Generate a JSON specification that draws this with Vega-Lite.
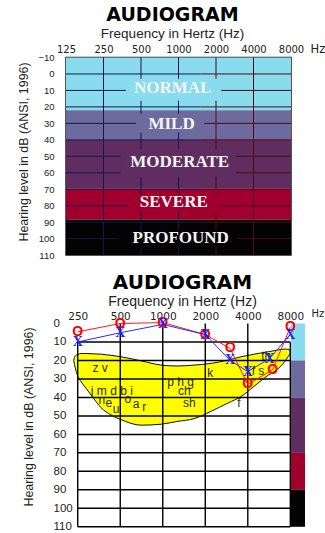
{
  "$schema": "https://vega.github.io/schema/vega-lite/v6.json",
  "background": "white",
  "padding": {"left": 16, "top": 4.5, "right": 0, "bottom": 0},
  "spacing": 12,
  "config": {
    "view": {"stroke": null},
    "font": "Liberation Sans",
    "title": {"font": "DejaVu Sans", "fontWeight": "bold", "color": "#000000", "subtitleFont": "Liberation Sans", "subtitleColor": "#222222", "anchor": "middle"},
    "axis": {"domain": false, "ticks": false, "grid": false, "labelColor": "#222222", "titleFont": "Liberation Sans", "titleFontWeight": "normal", "titleColor": "#222222", "labelOverlap": false}
  },
  "datasets": {
    "bands": [
      {"band": "NORMAL", "db": -10, "db2": 22},
      {"band": "MILD", "db": 22, "db2": 40},
      {"band": "MODERATE", "db": 40, "db2": 69.5},
      {"band": "SEVERE", "db": 69.5, "db2": 88.5},
      {"band": "PROFOUND", "db": 88.5, "db2": 110}
    ],
    "topLabels": [
      {"band": "NORMAL", "f": 899, "db": 8.5, "f1": 379, "f2": 2194, "db1": 2.9, "db2": 16.2},
      {"band": "MILD", "f": 879, "db": 30.4, "f1": 456, "f2": 1611, "db1": 24.1, "db2": 35.5},
      {"band": "MODERATE", "f": 1023, "db": 53.7, "f1": 341, "f2": 2895, "db1": 45.5, "db2": 62.4},
      {"band": "SEVERE", "f": 917, "db": 78, "f1": 391, "f2": 2064, "db1": 73.3, "db2": 83},
      {"band": "PROFOUND", "f": 1041, "db": 99.6, "f1": 330, "f2": 2900, "db1": 95, "db2": 105}
    ],
    "hl1": [{"db": 0}, {"db": 10}, {"db": 20}, {"db": 30}, {"db": 40}, {"db": 50}, {"db": 60}, {"db": 70}, {"db": 80}, {"db": 90}, {"db": 100}],
    "vlNavy": [{"f": 250}, {"f": 500}, {"f": 1000}],
    "vlMaroon": [{"f": 2000}, {"f": 4000}],
    "hl2": [{"db": 10}, {"db": 20}, {"db": 30}, {"db": 40}, {"db": 50}, {"db": 60}, {"db": 70}, {"db": 80}, {"db": 90}, {"db": 100}, {"db": 110}],
    "vl2": [
      {"f": 250, "db": 10, "db2": 110},
      {"f": 500, "db": 0, "db2": 110},
      {"f": 1000, "db": 0, "db2": 110},
      {"f": 2000, "db": 0, "db2": 110},
      {"f": 4000, "db": 0, "db2": 110},
      {"f": 8000, "db": 10, "db2": 110}
    ],
    "strip": [
      {"band": "NORMAL", "db": 0, "db2": 20},
      {"band": "MILD", "db": 20, "db2": 40},
      {"band": "MODERATE", "db": 40, "db2": 70},
      {"band": "SEVERE", "db": 70, "db2": 90},
      {"band": "PROFOUND", "db": 90, "db2": 110}
    ],
    "banana": [
      {"f": 234, "db": 20, "db2": 20},
      {"f": 240, "db": 17.5, "db2": 24},
      {"f": 250, "db": 16.8, "db2": 28.5},
      {"f": 264, "db": 16.2, "db2": 31.5},
      {"f": 286, "db": 16.2, "db2": 35},
      {"f": 320, "db": 16.4, "db2": 40},
      {"f": 365, "db": 16.6, "db2": 45.5},
      {"f": 430, "db": 17.2, "db2": 49.5},
      {"f": 506, "db": 18, "db2": 52},
      {"f": 702, "db": 20.2, "db2": 55},
      {"f": 973, "db": 22.5, "db2": 54.5},
      {"f": 1262, "db": 23, "db2": 53},
      {"f": 1665, "db": 22.5, "db2": 51.5},
      {"f": 2198, "db": 21.6, "db2": 47.5},
      {"f": 2900, "db": 19.8, "db2": 43},
      {"f": 3585, "db": 18, "db2": 39.5},
      {"f": 4432, "db": 16.6, "db2": 34},
      {"f": 5571, "db": 15.3, "db2": 28},
      {"f": 6557, "db": 14.3, "db2": 24.5},
      {"f": 7400, "db": 13.8, "db2": 20},
      {"f": 8000, "db": 14.5, "db2": 16}
    ],
    "phon": [
      {"t": "z v", "f": 360, "db": 24.3},
      {"t": "k", "f": 2172, "db": 26.7},
      {"t": "f s", "f": 4725, "db": 25.5},
      {"t": "th", "f": 5400, "db": 17.5},
      {"t": "p h g", "f": 1336, "db": 31.5},
      {"t": "ch", "f": 1421, "db": 36.4},
      {"t": "sh", "f": 1542, "db": 42.9},
      {"t": "j m d b i", "f": 436, "db": 36.6},
      {"t": "n", "f": 370, "db": 41.4},
      {"t": "e", "f": 415, "db": 42.9},
      {"t": "u", "f": 467, "db": 46},
      {"t": "o", "f": 565, "db": 41.1},
      {"t": "a", "f": 647, "db": 43.3},
      {"t": "r", "f": 740, "db": 45.1},
      {"t": "f", "f": 3466, "db": 42.9}
    ],
    "right": [
      {"f": 250, "db": 4.5},
      {"f": 500, "db": 0},
      {"f": 1000, "db": -0.5},
      {"f": 2000, "db": 6},
      {"f": 3000, "db": 13.5},
      {"f": 4000, "db": 33},
      {"f": 6000, "db": 25},
      {"f": 8000, "db": 2}
    ],
    "left": [
      {"f": 250, "db": 10},
      {"f": 500, "db": 5},
      {"f": 1000, "db": 0.5},
      {"f": 2000, "db": 6},
      {"f": 3000, "db": 20},
      {"f": 4000, "db": 26},
      {"f": 5700, "db": 19},
      {"f": 8000, "db": 6}
    ]
  },
  "vconcat": [
    {
      "width": 225,
      "height": 197.6,
      "view": {"stroke": "#1c1c1c", "strokeWidth": 1.5},
      "title": {"text": "AUDIOGRAM", "subtitle": "Frequency in Hertz (Hz)", "fontSize": 19, "subtitleFontSize": 13.5, "dx": -6, "offset": 3, "subtitlePadding": 2},
      "layer": [
        {
          "data": {"name": "bands"},
          "mark": {"type": "rect"},
          "encoding": {
            "x": {"datum": 125, "type": "quantitative"}, "x2": {"datum": 8000},
            "y": {"field": "db", "type": "quantitative", "scale": {"domain": [-10, 110], "reverse": true, "nice": false, "zero": false},
              "axis": {"values": [-10, 0, 10, 20, 30, 40, 50, 60, 70, 80, 90, 100, 110], "tickCount": 30, "labelOverlap": false, "labelFontSize": 9.5, "labelPadding": 12,
                "title": "Hearing level in dB (ANSI, 1996)", "titleFontSize": 12.4, "titleX": -43, "titleY": 94, "titleBaseline": "middle"}},
            "y2": {"field": "db2"},
            "fill": {"field": "band", "type": "nominal", "legend": null,
              "scale": {"domain": ["NORMAL", "MILD", "MODERATE", "SEVERE", "PROFOUND"], "range": ["#89dbee", "#6d6b9d", "#5f2d5f", "#a1002f", "#030303"]}}
          }
        },
        {
          "data": {"name": "hl1"},
          "mark": {"type": "rule", "color": "#17174c", "strokeWidth": 1},
          "encoding": {"y": {"field": "db", "type": "quantitative"}, "x": {"datum": 125, "type": "quantitative"}, "x2": {"datum": 1500}}
        },
        {
          "data": {"name": "hl1"},
          "mark": {"type": "rule", "color": "#4c0c16", "strokeWidth": 1},
          "encoding": {"y": {"field": "db", "type": "quantitative"}, "x": {"datum": 1500, "type": "quantitative"}, "x2": {"datum": 8000}}
        },
        {
          "data": {"name": "vlNavy"},
          "mark": {"type": "rule", "color": "#17174c", "strokeWidth": 1},
          "encoding": {
            "x": {"field": "f", "type": "quantitative", "scale": {"type": "log", "domain": [125, 8000], "nice": false},
              "axis": {"orient": "top", "values": [125, 250, 500, 1000, 2000, 4000, 8000], "tickCount": 30, "format": "d", "labelOverlap": false, "labelFont": "DejaVu Sans", "labelFontSize": 10, "labelPadding": 3, "labelFlush": false,
                "title": "Hz", "titleFont": "DejaVu Sans", "titleAngle": 0, "titleAlign": "left", "titleBaseline": "middle", "titleX": 244, "titleY": -8, "titleFontSize": 11.5}},
            "y": {"datum": -10, "type": "quantitative"}, "y2": {"datum": 110}
          }
        },
        {
          "data": {"name": "vlMaroon"},
          "mark": {"type": "rule", "color": "#4c0c16", "strokeWidth": 1},
          "encoding": {"x": {"field": "f", "type": "quantitative"}, "y": {"datum": -10, "type": "quantitative"}, "y2": {"datum": 110}}
        },
        {
          "data": {"name": "topLabels"},
          "mark": {"type": "rect"},
          "encoding": {
            "x": {"field": "f1", "type": "quantitative"}, "x2": {"field": "f2"},
            "y": {"field": "db1", "type": "quantitative"}, "y2": {"field": "db2"},
            "fill": {"field": "band", "type": "nominal", "legend": null}
          }
        },
        {
          "data": {"name": "topLabels"},
          "mark": {"type": "text", "font": "Liberation Serif", "fontWeight": "bold", "fontSize": 17, "color": "#f4f4f4", "baseline": "middle", "align": "center"},
          "encoding": {"x": {"field": "f", "type": "quantitative"}, "y": {"field": "db", "type": "quantitative"}, "text": {"field": "band"}}
        }
      ]
    },
    {
      "width": 225,
      "height": 203.3,
      "title": {"text": "AUDIOGRAM", "subtitle": "Frequency in Hertz (Hz)", "fontSize": 20, "subtitleFontSize": 14, "dx": 4, "offset": 0, "subtitlePadding": 2},
      "layer": [
        {
          "data": {"name": "strip"},
          "mark": {"type": "rect"},
          "encoding": {
            "x": {"datum": 8090, "type": "quantitative"}, "x2": {"datum": 10160},
            "y": {"field": "db", "type": "quantitative", "scale": {"domain": [0, 110], "reverse": true, "nice": false, "zero": false},
              "axis": {"values": [0, 10, 20, 30, 40, 50, 60, 70, 80, 90, 100, 110], "tickCount": 30, "labelOverlap": false, "labelFontSize": 11.5, "labelAlign": "left", "labelPadding": 13,
                "title": "Hearing level in dB (ANSI, 1996)", "titleFontSize": 12.4, "titleX": -37.5, "titleY": 93, "titleBaseline": "middle"}},
            "y2": {"field": "db2"},
            "fill": {"field": "band", "type": "nominal", "legend": null,
              "scale": {"domain": ["NORMAL", "MILD", "MODERATE", "SEVERE", "PROFOUND"], "range": ["#86d6ea", "#6f6e9c", "#60305f", "#a0002e", "#000000"]}}
          }
        },
        {
          "data": {"name": "banana"},
          "mark": {"type": "area", "fill": "#ffff00", "stroke": "#111111", "strokeWidth": 1, "interpolate": "monotone", "fillOpacity": 1},
          "encoding": {
            "x": {"field": "f", "type": "quantitative", "scale": {"type": "log", "domain": [206.5, 8090], "nice": false},
              "axis": {"orient": "top", "values": [250, 500, 1000, 2000, 4000, 8000], "tickCount": 30, "format": "d", "labelOverlap": false, "labelFont": "DejaVu Sans", "labelFontSize": 10.5, "labelPadding": 2, "labelFlush": false,
                "title": "Hz", "titleFont": "DejaVu Sans", "titleAngle": 0, "titleAlign": "left", "titleBaseline": "middle", "titleX": 245, "titleY": -10, "titleFontSize": 10}},
            "y": {"field": "db", "type": "quantitative"}, "y2": {"field": "db2"}
          }
        },
        {
          "data": {"name": "hl2"},
          "mark": {"type": "rule", "color": "#000000", "strokeWidth": 1.5},
          "encoding": {"y": {"field": "db", "type": "quantitative"}, "x": {"datum": 250, "type": "quantitative"}, "x2": {"datum": 8000}}
        },
        {
          "data": {"name": "vl2"},
          "mark": {"type": "rule", "color": "#000000", "strokeWidth": 1.4},
          "encoding": {"x": {"field": "f", "type": "quantitative"}, "y": {"field": "db", "type": "quantitative"}, "y2": {"field": "db2"}}
        },
        {
          "data": {"name": "phon"},
          "mark": {"type": "text", "fontSize": 12, "color": "#2a2a10", "baseline": "middle", "align": "center"},
          "encoding": {"x": {"field": "f", "type": "quantitative"}, "y": {"field": "db", "type": "quantitative"}, "text": {"field": "t"}}
        },
        {
          "data": {"name": "right"},
          "mark": {"type": "line", "color": "#ff1a1a", "strokeWidth": 1},
          "encoding": {"x": {"field": "f", "type": "quantitative"}, "y": {"field": "db", "type": "quantitative"}, "order": {"field": "f"}}
        },
        {
          "data": {"name": "left"},
          "mark": {"type": "line", "color": "#2a2aff", "strokeWidth": 1},
          "encoding": {"x": {"field": "f", "type": "quantitative"}, "y": {"field": "db", "type": "quantitative"}, "order": {"field": "f"}}
        },
        {
          "data": {"name": "right"},
          "mark": {"type": "text", "text": "O", "font": "Liberation Sans", "fontWeight": "bold", "fontSize": 14, "color": "#ff0000", "baseline": "middle", "align": "center"},
          "encoding": {"x": {"field": "f", "type": "quantitative"}, "y": {"field": "db", "type": "quantitative"}}
        },
        {
          "data": {"name": "left"},
          "mark": {"type": "text", "text": "X", "font": "Liberation Serif", "fontWeight": "bold", "fontSize": 14, "color": "#1f1fff", "baseline": "middle", "align": "center"},
          "encoding": {"x": {"field": "f", "type": "quantitative"}, "y": {"field": "db", "type": "quantitative"}}
        }
      ]
    }
  ]
}
